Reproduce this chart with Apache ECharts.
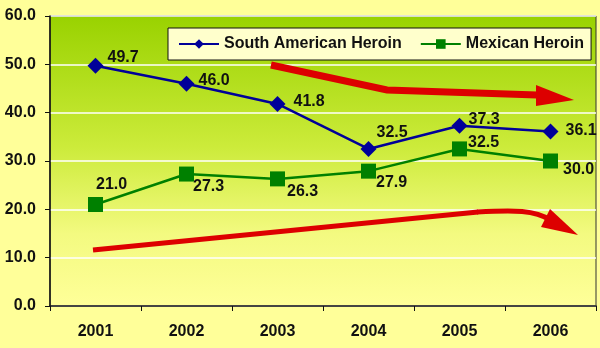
<!DOCTYPE html>
<html><head><meta charset="utf-8">
<script src="https://cdn.jsdelivr.net/npm/echarts@6/dist/echarts.min.js"></script>
<style>html,body{margin:0;padding:0;background:#FFFF99;}#c{width:600px;height:348px;}</style>
</head><body><div id="c"></div>
<script>
var years = ['2001','2002','2003','2004','2005','2006'];
var southAmerican = [49.7, 46.0, 41.8, 32.5, 37.3, 36.1];
var mexican = [21.0, 27.3, 26.3, 27.9, 32.5, 30.0];
var southLabelOffsets = [[-1,-8],[-1,-3],[3,-2],[-5,-16],[-4,-6],[2,-1]];
var mexLabelOffsets = [[-12,-20],[-6,13],[-3,13],[-5,11],[-4,-6],[0,9]];

var chart = echarts.init(document.getElementById('c'));
var FONT = 'Liberation Sans, Arial';
var lblFont = {color:'#111', fontWeight:'bold', fontSize:16, fontFamily:FONT};
function mkData(vals, offs){
  return vals.map(function(v,i){return {value:v, label:{offset:offs[i]}};});
}
chart.setOption({
  backgroundColor:'#FFFF99',
  animation:false,
  grid:{left:50,right:4,top:16,bottom:42,show:true,borderColor:'#333',borderWidth:1,
    backgroundColor:{type:'linear',x:0,y:0,x2:0,y2:1,colorStops:[
      {offset:0,color:'#99D200'},{offset:0.45,color:'#CCEB3A'},{offset:0.75,color:'#F3FA80'},{offset:1,color:'#FFFF99'}]}},
  legend:{top:28,left:168,padding:[8,7,8,10],itemGap:18,itemWidth:40,itemHeight:12,
    backgroundColor:'#FFFFCC',borderColor:'#111',borderWidth:1,
    textStyle:{fontWeight:'bold',fontSize:16,color:'#111',fontFamily:FONT}},
  xAxis:{type:'category',data:years,boundaryGap:true,
    axisLine:{lineStyle:{color:'#111',width:1.5}},
    axisTick:{show:true,length:5,lineStyle:{color:'#111'}},
    axisLabel:{margin:18,color:'#111',fontWeight:'bold',fontSize:16,fontFamily:FONT}},
  yAxis:{type:'value',min:0,max:60,interval:10,
    axisLine:{show:true,lineStyle:{color:'#111',width:1.5}},
    axisTick:{show:true,length:5,lineStyle:{color:'#111'}},
    splitLine:{lineStyle:{color:'#FFFFFF',width:1.5}},
    axisLabel:{margin:14,color:'#111',fontWeight:'bold',fontSize:16,fontFamily:FONT,
      formatter:function(v){return v.toFixed(1);}}},
  series:[
    {name:'South American Heroin',type:'line',data:mkData(southAmerican,southLabelOffsets),
     symbol:'diamond',symbolSize:16,color:'#000099',lineStyle:{width:2.5,color:'#000099'},itemStyle:{color:'#000099'},
     label:Object.assign({show:true,position:'right',formatter:function(p){return p.value.toFixed(1);}},lblFont)},
    {name:'Mexican Heroin',type:'line',data:mkData(mexican,mexLabelOffsets),
     symbol:'rect',symbolSize:15,color:'#008000',lineStyle:{width:2.5,color:'#008000'},itemStyle:{color:'#008000'},
     label:Object.assign({show:true,position:'right',formatter:function(p){return p.value.toFixed(1);}},lblFont)}
  ],
  graphic:[
    {type:'polyline',z:100,shape:{points:[[271,65],[387,90],[537,95]]},style:{stroke:'#DD0000',lineWidth:7,fill:null}},
    {type:'polygon',z:100,shape:{points:[[536,85],[574,100],[536,106]]},style:{fill:'#DD0000'}},
    {type:'line',z:100,shape:{x1:93,y1:250,x2:478,y2:212},style:{stroke:'#DD0000',lineWidth:5}},
    {type:'bezierCurve',z:100,shape:{x1:477,y1:212,cpx1:515,cpy1:210,cpx2:535,cpy2:210,x2:550,y2:220},style:{stroke:'#DD0000',lineWidth:5,fill:null}},
    {type:'polygon',z:100,shape:{points:[[550,209],[578,235],[541,227]]},style:{fill:'#DD0000'}}
  ]
});
</script></body></html>
